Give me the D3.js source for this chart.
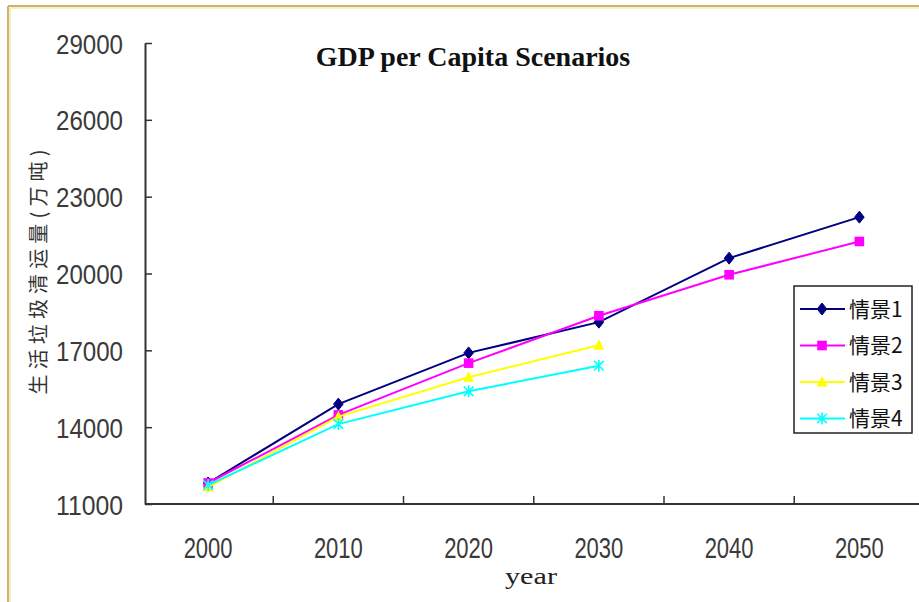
<!DOCTYPE html>
<html><head><meta charset="utf-8">
<script src="https://cdn.jsdelivr.net/npm/d3@7"></script>
<style>
html,body{margin:0;padding:0;background:#fff;}
svg{display:block;}
</style></head>
<body>
<svg id="chart" width="919" height="602"></svg>
<script>
const years = ["2000","2010","2020","2030","2040","2050"];
const yTicks = [11000,14000,17000,20000,23000,26000,29000];
const seriesNames = ["情景1","情景2","情景3","情景4"];
const s1 = [11820, 14900, 16900, 18100, 20600, 22200];
const s2 = [11820, 14480, 16500, 18350, 19950, 21250];
const s3 = [11660, 14410, 15950, 17200];
const s4 = [11740, 14120, 15400, 16400];
const seriesValues = [s1, s2, s3, s4];
const colors = ["#000080", "#ff00ff", "#ffff00", "#00ffff"];
const markers = ["diamond", "square", "triangle", "x"];
const titleText = "GDP per Capita Scenarios";
const xTitle = "year";
const yTitle = "生活垃圾清运量(万吨)";

const svg = d3.select("#chart");

// frame
svg.append("rect").attr("x",0).attr("y",0).attr("width",919).attr("height",602).attr("fill","#fff");
svg.append("line").attr("x1",8).attr("x2",919).attr("y1",6).attr("y2",6).attr("stroke","#c9b46a").attr("stroke-width",2);
svg.append("line").attr("x1",8).attr("x2",8).attr("y1",6).attr("y2",602).attr("stroke","#c9b46a").attr("stroke-width",2);
svg.append("line").attr("x1",10).attr("x2",919).attr("y1",8).attr("y2",8).attr("stroke","#f6efc4").attr("stroke-width",2);
svg.append("line").attr("x1",10).attr("x2",10).attr("y1",8).attr("y2",602).attr("stroke","#f6efc4").attr("stroke-width",2);

const x = d3.scaleBand().domain(years).range([143, 924.5]).padding(0);
const y = d3.scaleLinear().domain([11000, 29000]).range([504, 43]);
const cx = d => x(d) + x.bandwidth()/2;

// y axis
const yAxis = svg.append("g").attr("transform","translate(145,0)")
  .call(d3.axisLeft(y).tickValues(yTicks).tickFormat(d3.format("d")).tickSizeInner(-7).tickSizeOuter(0).tickPadding(22));
yAxis.select(".domain").attr("stroke","#333").attr("stroke-width",2);
yAxis.selectAll(".tick line").attr("stroke","#333").attr("stroke-width",1.5);
yAxis.selectAll(".tick text").attr("font-family","Liberation Sans, Arial, sans-serif")
  .attr("font-size",28).attr("fill","#3a3a3a").attr("textLength",67).attr("lengthAdjust","spacingAndGlyphs").attr("dy","0.36em");

// x axis
const xAxis = svg.append("g").attr("transform","translate(0,504)")
  .call(d3.axisBottom(x).tickSize(0).tickPadding(33));
xAxis.select(".domain").remove();
xAxis.selectAll(".tick text").attr("font-family","Liberation Sans, Arial, sans-serif")
  .attr("font-size",29).attr("fill","#3a3a3a").attr("textLength",49).attr("lengthAdjust","spacingAndGlyphs");
svg.append("line").attr("x1",145).attr("x2",925).attr("y1",504).attr("y2",504).attr("stroke","#333").attr("stroke-width",2);
svg.append("g").selectAll("line").data(years.slice(1)).join("line")
  .attr("x1", d => x(d)).attr("x2", d => x(d)).attr("y1",504).attr("y2",496)
  .attr("stroke","#333").attr("stroke-width",1.5);

// titles
svg.append("text").attr("x",473).attr("y",66).attr("text-anchor","middle")
  .attr("font-family","Liberation Serif, Times New Roman, serif").attr("font-weight","bold").attr("font-size",28)
  .attr("fill","#111").text(titleText);
svg.append("text").attr("x",531).attr("y",584).attr("text-anchor","middle")
  .attr("font-family","Liberation Serif, Times New Roman, serif").attr("font-size",24)
  .attr("textLength",52).attr("lengthAdjust","spacingAndGlyphs")
  .attr("fill","#222").text(xTitle);
svg.append("text").attr("transform","translate(46,272) rotate(-90)").attr("text-anchor","middle")
  .attr("font-family","Noto Sans CJK SC, sans-serif").attr("font-size",20)
  .attr("textLength",245).attr("lengthAdjust","spacing")
  .attr("fill","#333").text(yTitle);

function drawMarker(g, type, color, px, py, s) {
  if (type === "diamond") {
    g.append("path").attr("d", `M${px},${py-s}L${px+s*0.8},${py}L${px},${py+s}L${px-s*0.8},${py}Z`).attr("fill", color).attr("stroke", color);
  } else if (type === "square") {
    g.append("rect").attr("x", px-s*0.8).attr("y", py-s*0.8).attr("width", s*1.6).attr("height", s*1.6).attr("fill", color);
  } else if (type === "triangle") {
    g.append("path").attr("d", `M${px},${py-s}L${px+s*0.9},${py+s*0.75}L${px-s*0.9},${py+s*0.75}Z`).attr("fill", color);
  } else {
    g.append("path").attr("d", `M${px-s*0.8},${py-s*0.8}L${px+s*0.8},${py+s*0.8}M${px-s*0.8},${py+s*0.8}L${px+s*0.8},${py-s*0.8}M${px},${py-s}L${px},${py+s}`)
      .attr("stroke", color).attr("stroke-width",1.6).attr("fill","none");
  }
}

const line = d3.line().x((d,i) => cx(years[i])).y(d => y(d));
seriesValues.forEach((vals, k) => {
  const g = svg.append("g");
  g.append("path").attr("d", line(vals)).attr("fill","none").attr("stroke", colors[k]).attr("stroke-width",2);
  vals.forEach((v,i) => drawMarker(g, markers[k], colors[k], cx(years[i]), y(v), 6));
});

// legend
const lg = svg.append("g");
lg.append("rect").attr("x",794).attr("y",286).attr("width",118).attr("height",147)
  .attr("fill","#fff").attr("stroke","#222").attr("stroke-width",1.5);
seriesNames.forEach((n,k) => {
  const ly = 309 + k*36.5;
  lg.append("line").attr("x1",800).attr("x2",845).attr("y1",ly).attr("y2",ly).attr("stroke",colors[k]).attr("stroke-width",2);
  drawMarker(lg, markers[k], colors[k], 822, ly, 6);
  lg.append("text").attr("x",849).attr("y",ly).attr("dy","0.36em")
    .attr("font-family","Noto Sans CJK SC, sans-serif").attr("font-size",21).attr("fill","#111").text(n);
});
</script>
</body></html>
